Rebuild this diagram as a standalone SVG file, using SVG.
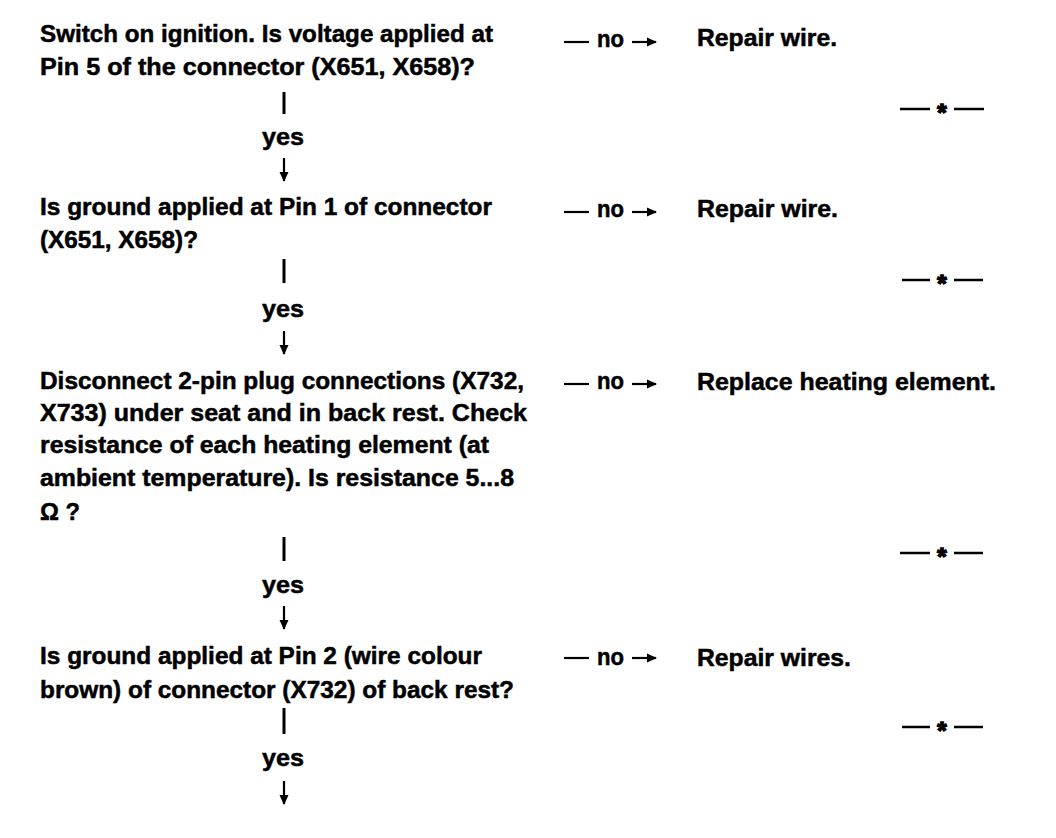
<svg xmlns="http://www.w3.org/2000/svg" width="1056" height="838" viewBox="0 0 1056 838">
<style>
text{font-family:"Liberation Sans",Arial,sans-serif;font-weight:bold;font-size:24px;fill:#000;stroke:#000;stroke-width:0.5}
.lbl{text-anchor:middle}
.ln{stroke:#000;fill:none}
.bar{stroke-width:3}
.sh{stroke-width:2.2}
.dash{stroke-width:2.5}
.star{font-size:24px;text-anchor:middle;stroke-width:1.5}
</style>
<defs>
<marker id="ah" viewBox="0 0 10 10" refX="9" refY="5" markerWidth="10" markerHeight="10" markerUnits="userSpaceOnUse" orient="auto">
<path d="M0,0.5 L10,5 L0,9.5 Z" fill="#000"/>
</marker>
</defs>
<rect width="1056" height="838" fill="#fff"/>

<g id="q1">
<text x="40" y="42" textLength="453" lengthAdjust="spacingAndGlyphs">Switch on ignition. Is voltage applied at</text>
<text x="40" y="75" textLength="435" lengthAdjust="spacingAndGlyphs">Pin 5 of the connector (X651, X658)?</text>
</g>
<g id="a1">
<text x="697" y="46" textLength="140" lengthAdjust="spacingAndGlyphs">Repair wire.</text>
</g>
<g id="e1">
<line class="ln dash" x1="900" y1="109" x2="930" y2="109"/><text class="star" x="942" y="121">*</text><line class="ln dash" x1="954" y1="109" x2="984" y2="109"/>
</g>

<g id="q2">
<text x="40" y="215" textLength="452" lengthAdjust="spacingAndGlyphs">Is ground applied at Pin 1 of connector</text>
<text x="40" y="248" textLength="158" lengthAdjust="spacingAndGlyphs">(X651, X658)?</text>
</g>
<g id="a2">
<text x="697" y="217" textLength="141" lengthAdjust="spacingAndGlyphs">Repair wire.</text>
</g>
<g id="e2">
<line class="ln dash" x1="902" y1="280" x2="930" y2="280"/><text class="star" x="942" y="292">*</text><line class="ln dash" x1="954" y1="280" x2="983" y2="280"/>
</g>

<g id="q3">
<text x="40" y="389" textLength="484" lengthAdjust="spacingAndGlyphs">Disconnect 2-pin plug connections (X732,</text>
<text x="40" y="421" textLength="487" lengthAdjust="spacingAndGlyphs">X733) under seat and in back rest. Check</text>
<text x="40" y="453" textLength="449" lengthAdjust="spacingAndGlyphs">resistance of each heating element (at</text>
<text x="40" y="486" textLength="474" lengthAdjust="spacingAndGlyphs">ambient temperature). Is resistance 5...8</text>
<text x="40" y="520" textLength="40" lengthAdjust="spacingAndGlyphs">Ω ?</text>
</g>
<g id="a3">
<text x="697" y="390" textLength="299" lengthAdjust="spacingAndGlyphs">Replace heating element.</text>
</g>
<g id="e3">
<line class="ln dash" x1="900" y1="553" x2="930" y2="553"/><text class="star" x="942" y="565">*</text><line class="ln dash" x1="954" y1="553" x2="983" y2="553"/>
</g>

<g id="q4">
<text x="40" y="664" textLength="442" lengthAdjust="spacingAndGlyphs">Is ground applied at Pin 2 (wire colour</text>
<text x="40" y="698" textLength="474" lengthAdjust="spacingAndGlyphs">brown) of connector (X732) of back rest?</text>
</g>
<g id="a4">
<text x="697" y="666" textLength="154" lengthAdjust="spacingAndGlyphs">Repair wires.</text>
</g>
<g id="e4">
<line class="ln dash" x1="902" y1="727" x2="930" y2="727"/><text class="star" x="942" y="739">*</text><line class="ln dash" x1="954" y1="727" x2="983" y2="727"/>
</g>

<g id="connectors">
<line class="ln bar" x1="284" y1="92" x2="284" y2="114"/>
<text class="lbl" x="283" y="145" textLength="42" lengthAdjust="spacingAndGlyphs">yes</text>
<line class="ln sh" x1="284" y1="158" x2="284" y2="181" marker-end="url(#ah)"/>

<line class="ln bar" x1="284" y1="259" x2="284" y2="283"/>
<text class="lbl" x="283" y="317" textLength="42" lengthAdjust="spacingAndGlyphs">yes</text>
<line class="ln sh" x1="284" y1="331" x2="284" y2="354" marker-end="url(#ah)"/>

<line class="ln bar" x1="284" y1="537" x2="284" y2="561"/>
<text class="lbl" x="283" y="593" textLength="42" lengthAdjust="spacingAndGlyphs">yes</text>
<line class="ln sh" x1="284" y1="606" x2="284" y2="629" marker-end="url(#ah)"/>

<line class="ln bar" x1="284" y1="708" x2="284" y2="734"/>
<text class="lbl" x="283" y="766" textLength="42" lengthAdjust="spacingAndGlyphs">yes</text>
<line class="ln sh" x1="284" y1="781" x2="284" y2="804" marker-end="url(#ah)"/>

<line class="ln sh" x1="564" y1="42" x2="589" y2="42"/>
<text x="597" y="47" textLength="27" lengthAdjust="spacingAndGlyphs">no</text>
<line class="ln sh" x1="632" y1="42" x2="656" y2="42" marker-end="url(#ah)"/>

<line class="ln sh" x1="564" y1="212" x2="589" y2="212"/>
<text x="597" y="217" textLength="27" lengthAdjust="spacingAndGlyphs">no</text>
<line class="ln sh" x1="632" y1="212" x2="656" y2="212" marker-end="url(#ah)"/>

<line class="ln sh" x1="564" y1="384" x2="589" y2="384"/>
<text x="597" y="389" textLength="27" lengthAdjust="spacingAndGlyphs">no</text>
<line class="ln sh" x1="632" y1="384" x2="656" y2="384" marker-end="url(#ah)"/>

<line class="ln sh" x1="564" y1="658" x2="589" y2="658"/>
<text x="597" y="665" textLength="27" lengthAdjust="spacingAndGlyphs">no</text>
<line class="ln sh" x1="632" y1="658" x2="656" y2="658" marker-end="url(#ah)"/>
</g>
</svg>
